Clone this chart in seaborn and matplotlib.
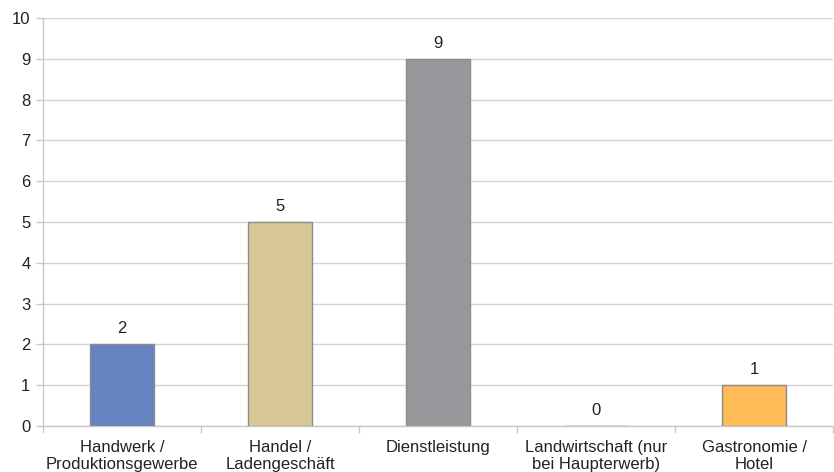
import matplotlib
matplotlib.use("Agg")
import matplotlib.pyplot as plt
import seaborn as sns
import pandas as pd
from matplotlib.ticker import FixedLocator

categories = [
    "Handwerk /\nProduktionsgewerbe",
    "Handel /\nLadengeschäft",
    "Dienstleistung",
    "Landwirtschaft (nur\nbei Haupterwerb)",
    "Gastronomie /\nHotel",
]
counts = [2, 5, 9, 0, 1]
colors = ["#6783C0", "#D8C898", "#98989C", "#9BBB59", "#FFBB55"]
y_ticks = list(range(0, 11))

sns.set_theme(style="white")
plt.rcParams["font.family"] = ["Liberation Sans", "DejaVu Sans"]

df = pd.DataFrame({"Kategorie": categories, "Anzahl": counts})

fig = plt.figure(figsize=(8.34, 4.72), dpi=100)
ax = fig.add_axes([43 / 834, 1 - 426 / 472, 790 / 834, 408 / 472])

sns.barplot(
    data=df, x="Kategorie", y="Anzahl", hue="Kategorie",
    palette=colors, saturation=1, legend=False, width=0.41,
    edgecolor="#8c8c8c", linewidth=1.0, ax=ax, zorder=3,
)

ax.set_xlim(-0.5, len(categories) - 0.5)
ax.set_ylim(0, 10)
ax.set_yticks(y_ticks)
ax.set_xlabel("")
ax.set_ylabel("")

# horizontal grid
ax.yaxis.grid(True, color="#d4d4d4", linewidth=1.0, zorder=0)
ax.xaxis.grid(False)

for side in ["top", "right"]:
    ax.spines[side].set_visible(False)
for side in ["left", "bottom"]:
    ax.spines[side].set_color("#c8c8c8")
    ax.spines[side].set_linewidth(1.0)

ax.tick_params(axis="y", which="major", left=True, length=5, width=1,
               color="#c8c8c8", labelsize=12, labelcolor="#222222", pad=4)
ax.tick_params(axis="x", which="major", bottom=False, labelsize=12,
               labelcolor="#222222", pad=4)
# category separators below the axis
ax.xaxis.set_minor_locator(FixedLocator([i + 0.5 for i in range(-1, len(categories))]))
ax.tick_params(axis="x", which="minor", bottom=True, length=5, width=1,
               color="#c8c8c8")

for i, v in enumerate(counts):
    ax.text(i, v + 0.2, str(v), ha="center", va="bottom",
            fontsize=12, color="#222222")

fig.savefig("out.png", dpi=100)
